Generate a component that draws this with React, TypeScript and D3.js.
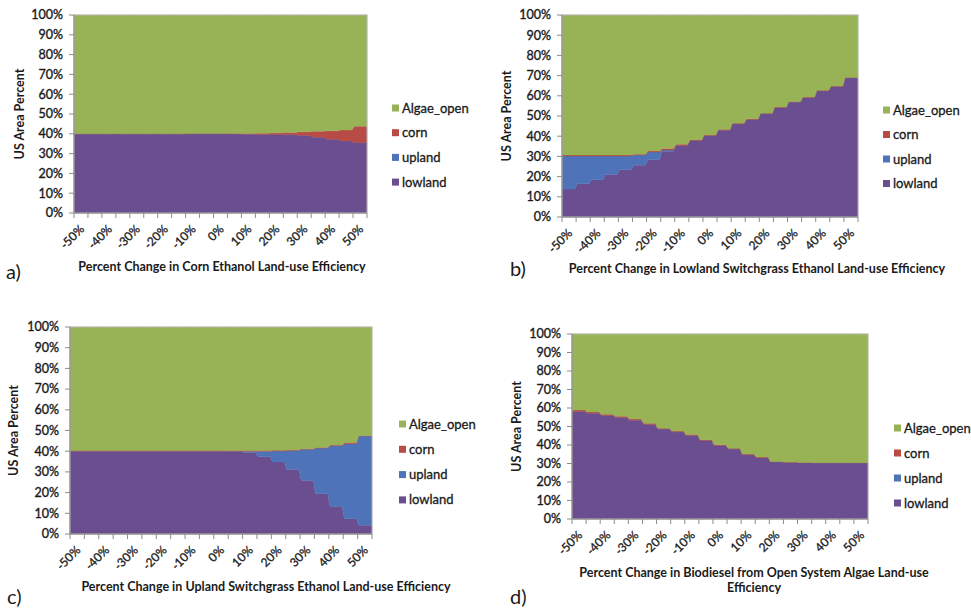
import React from 'react';
import * as d3 from 'd3';

// categories on the x axis (percent change in land-use efficiency)
const categories = ['-50%', '-45%', '-40%', '-35%', '-30%', '-25%', '-20%', '-15%', '-10%', '-5%', '0%',
  '5%', '10%', '15%', '20%', '25%', '30%', '35%', '40%', '45%', '50%'];
const yTickValues = [0, 10, 20, 30, 40, 50, 60, 70, 80, 90, 100];
const seriesNames = ['lowland', 'upland', 'corn', 'Algae_open'];
const legendOrder = ['Algae_open', 'corn', 'upland', 'lowland'];

// a) corn ethanol
const lowlandA = [40, 40, 40, 40, 40, 40, 40, 40, 40, 40, 40, 39.9, 39.8, 39.7, 39.6, 39.5, 39.2, 38.3, 37.3, 36.4, 35.5];
const uplandA = [0, 0, 0, 0, 0, 0, 0, 0, 0, 0, 0, 0, 0, 0, 0, 0, 0, 0, 0, 0, 0];
const cornA = [0, 0, 0, 0, 0, 0, 0, 0, 0.1, 0.1, 0.2, 0.3, 0.4, 0.6, 0.9, 1.2, 1.8, 3.0, 4.2, 5.5, 8.3];
const algaeA = [60, 60, 60, 60, 60, 60, 60, 60, 59.9, 59.9, 59.8, 59.8, 59.8, 59.7, 59.5, 59.3, 59.0, 58.7, 58.5, 58.1, 56.2];

// b) lowland switchgrass
const lowlandB = [13.8, 16.4, 18.5, 21.1, 23.4, 25.6, 28.3, 32.6, 35.4, 37.9, 40.3, 43.0, 46.1, 48.3, 51.2, 54.2, 56.9, 59.2, 62.5, 64.6, 68.9];
const uplandB = [16.4, 13.8, 11.7, 9.1, 6.8, 5.1, 3.9, 0.6, 0, 0, 0, 0, 0, 0, 0, 0, 0, 0, 0, 0, 0];
const cornB = [0.5, 0.5, 0.5, 0.5, 0.5, 0.4, 0.5, 0.7, 0.6, 0.4, 0.3, 0.3, 0.3, 0.3, 0.2, 0.2, 0.2, 0.2, 0.2, 0.2, 0.2];
const algaeB = [69.3, 69.3, 69.3, 69.3, 69.3, 68.9, 67.3, 66.1, 64.0, 61.7, 59.4, 56.7, 53.6, 51.4, 48.6, 45.6, 42.9, 40.6, 37.3, 35.2, 30.9];

// c) upland switchgrass
const lowlandC = [40, 40, 40, 40, 40, 40, 40, 40, 40, 40, 40, 39.8, 39.4, 37.5, 34.8, 31.1, 25.8, 19.5, 13.4, 7.4, 4.2];
const uplandC = [0, 0, 0, 0, 0, 0, 0, 0, 0, 0, 0, 0.2, 0.6, 2.5, 5.3, 9.2, 15.1, 22.0, 29.3, 36.2, 43.1];
const cornC = [0.3, 0.3, 0.3, 0.3, 0.3, 0.3, 0.3, 0.3, 0.3, 0.3, 0.3, 0.3, 0.3, 0.3, 0.3, 0.3, 0.3, 0.3, 0.3, 0.6, 0.2];
const algaeC = [59.7, 59.7, 59.7, 59.7, 59.7, 59.7, 59.7, 59.7, 59.7, 59.7, 59.7, 59.7, 59.7, 59.7, 59.6, 59.4, 58.8, 58.2, 57.0, 55.8, 52.5];

// d) open system algae biodiesel
const lowlandD = [58.1, 57.2, 55.9, 54.9, 53.4, 51.1, 48.6, 47.1, 45.1, 42.4, 39.7, 37.8, 34.7, 33.1, 30.8, 30.6, 30.4, 30.4, 30.4, 30.4, 30.4];
const uplandD = [0, 0, 0, 0, 0, 0, 0, 0, 0, 0, 0, 0, 0, 0, 0, 0, 0, 0, 0, 0, 0];
const cornD = [0.8, 0.7, 0.7, 0.6, 0.6, 0.6, 0.5, 0.5, 0.6, 0.5, 0.5, 0.4, 0.5, 0.4, 0.3, 0.2, 0.1, 0, 0, 0, 0];
const algaeD = [41.1, 42.1, 43.4, 44.5, 46.0, 48.3, 50.9, 52.4, 54.3, 57.1, 59.8, 61.8, 64.8, 66.5, 68.9, 69.2, 69.5, 69.6, 69.6, 69.6, 69.6];

const colors: Record<string, string> = {
  Algae_open: '#98b355',
  corn: '#b84b46',
  upland: '#4e73b9',
  lowland: '#6a4e8f',
};

const FONT = 'Lato, "Open Sans", sans-serif';
const INK = '#1a1a1a';

type PanelProps = {
  lowland: number[];
  upland: number[];
  corn: number[];
  algae: number[];
  x0: number; x1: number; y0: number; y1: number;
  legendX: number; legendY: number; legendGap: number;
  yTitleX: number;
  titleLines: string[]; titleX: number; titleY: number;
  letter: string; letterX: number; letterY: number;
};

function Panel(p: PanelProps) {
  const rows = categories.map((c, i) => ({
    cat: c,
    lowland: p.lowland[i],
    upland: p.upland[i],
    corn: p.corn[i],
    Algae_open: p.algae[i],
  }));
  const stacked = d3.stack<any>().keys(seriesNames).offset(d3.stackOffsetExpand)(rows);
  const n = categories.length;
  const x = d3.scaleLinear().domain([-0.5, n - 0.5]).range([p.x0, p.x1]);
  const y = d3.scaleLinear().domain([0, 1]).range([p.y1, p.y0]);

  // flat step per category with a short ramp between neighbours
  const ramp = 0.08;
  const area = d3.area<{ x: number; lo: number; hi: number }>()
    .x(d => x(d.x)).y0(d => y(d.lo)).y1(d => y(d.hi));

  const pathFor = (s: any) => {
    const pts: { x: number; lo: number; hi: number }[] = [];
    s.forEach((d: any, i: number) => {
      pts.push({ x: i === 0 ? -0.5 : i - 0.5 + ramp, lo: d[0], hi: d[1] });
      pts.push({ x: i === n - 1 ? n - 0.5 : i + 0.5 - ramp, lo: d[0], hi: d[1] });
    });
    return area(pts) || '';
  };

  const boundaries = d3.range(n + 1).map(k => k - 0.5);
  const yCenter = (p.y0 + p.y1) / 2;

  return (
    <g>
      {stacked.map(s => (
        <path key={s.key} d={pathFor(s)} fill={colors[s.key]} stroke={colors[s.key]} strokeWidth={0.4} />
      ))}
      {/* plot area frame */}
      <rect x={p.x0} y={p.y0} width={p.x1 - p.x0} height={p.y1 - p.y0} fill="none" stroke="#b5b5b5" strokeWidth={1} />
      {/* y axis */}
      <line x1={p.x0} x2={p.x0} y1={p.y0} y2={p.y1} stroke="#8c8c8c" />
      {yTickValues.map(v => (
        <g key={v} transform={`translate(0,${y(v / 100)})`}>
          <line x1={p.x0 - 5} x2={p.x0} stroke="#8c8c8c" />
          <text x={p.x0 - 11} dy="0.35em" textAnchor="end" fontSize={12.5} fontFamily={FONT}
            fill={INK} stroke={INK} strokeWidth={0.35}>{v}%</text>
        </g>
      ))}
      {/* x axis */}
      <line x1={p.x0} x2={p.x1} y1={p.y1} y2={p.y1} stroke="#8c8c8c" />
      {boundaries.map(b => (
        <line key={b} x1={x(b)} x2={x(b)} y1={p.y1} y2={p.y1 + 5} stroke="#8c8c8c" />
      ))}
      {categories.map((c, i) => i % 2 === 0 ? (
        <text key={c} transform={`translate(${x(i) + 4},${p.y1 + 17}) rotate(-45)`} textAnchor="end"
          fontSize={12} fontFamily={FONT} fill={INK} stroke={INK} strokeWidth={0.3}>{c}</text>
      ) : null)}
      {/* axis titles */}
      <text transform={`translate(${p.yTitleX},${yCenter}) rotate(-90)`} textAnchor="middle" dy="0.35em"
        fontSize={12.5} fontWeight="bold" fontFamily={FONT} fill={INK}>US Area Percent</text>
      {p.titleLines.map((t, i) => (
        <text key={i} x={p.titleX} y={p.titleY + i * 15} textAnchor="middle" dy="0.35em"
          fontSize={12.5} fontWeight="bold" fontFamily={FONT} fill={INK}>{t}</text>
      ))}
      <text x={p.letterX} y={p.letterY} dy="0.35em" fontSize={20} fontFamily={FONT} fill={INK}>{p.letter}</text>
      {/* legend */}
      {legendOrder.map((k, i) => (
        <g key={k} transform={`translate(${p.legendX},${p.legendY + i * p.legendGap})`}>
          <rect x={0} y={-3.5} width={7} height={7} fill={colors[k]} />
          <text x={10} dy="0.35em" fontSize={13} fontFamily={FONT} fill={INK} stroke={INK} strokeWidth={0.3}>{k}</text>
        </g>
      ))}
    </g>
  );
}

export default function App() {
  return (
    <svg width={971} height={609} style={{ position: 'absolute', left: 0, top: 0, background: '#fff' }}>
      <rect width={971} height={609} fill="#fff" />
      <Panel lowland={lowlandA} upland={uplandA} corn={cornA} algae={algaeA}
        x0={74} x1={367} y0={15} y1={213}
        legendX={392} legendY={108} legendGap={24.7} yTitleX={20}
        titleLines={['Percent Change in Corn Ethanol Land-use Efficiency']} titleX={222} titleY={267}
        letter="a)" letterX={6} letterY={272} />
      <Panel lowland={lowlandB} upland={uplandB} corn={cornB} algae={algaeB}
        x0={562} x1={858} y0={15} y1={217}
        legendX={883} legendY={110} legendGap={24.5} yTitleX={507}
        titleLines={['Percent Change in Lowland Switchgrass Ethanol Land-use Efficiency']} titleX={757} titleY={269}
        letter="b)" letterX={510} letterY={269} />
      <Panel lowland={lowlandC} upland={uplandC} corn={cornC} algae={algaeC}
        x0={70} x1={372} y0={327} y1={534}
        legendX={399} legendY={424} legendGap={25.3} yTitleX={14}
        titleLines={['Percent Change in Upland Switchgrass Ethanol Land-use Efficiency']} titleX={266} titleY={587}
        letter="c)" letterX={7} letterY={597} />
      <Panel lowland={lowlandD} upland={uplandD} corn={cornD} algae={algaeD}
        x0={572} x1={868} y0={334} y1={519}
        legendX={894} legendY={428} legendGap={25} yTitleX={517}
        titleLines={['Percent Change in Biodiesel from Open System Algae Land-use', 'Efficiency']} titleX={754} titleY={573}
        letter="d)" letterX={510} letterY={597} />
    </svg>
  );
}
